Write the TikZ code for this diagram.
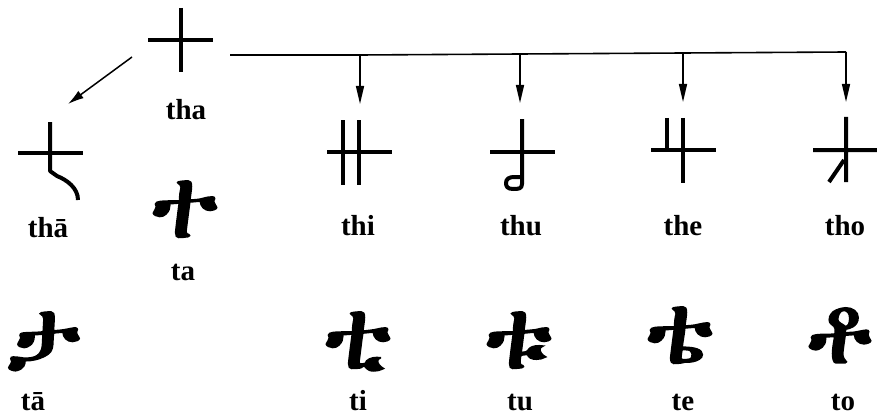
\documentclass[tikz,border=0pt]{standalone}
\usepackage{fontspec}
\usetikzlibrary{arrows.meta}
\setmainfont{Liberation Serif}
\IfFontExistsTF{FreeSerif}{\newfontfamily\eth{FreeSerif}[FakeBold=2]}{\newfontfamily\eth{DejaVu Sans}}
\begin{document}
\begin{tikzpicture}[x=1pt,y=-1pt,
  lbl/.style={font=\fontsize{29}{29}\selectfont\bfseries, anchor=base, inner sep=0pt},
  ethg/.style={font=\eth\fontsize{96}{96}\selectfont, anchor=base, inner sep=0pt},
  stroke/.style={line width=4pt, line cap=butt},
  conn/.style={line width=1.6pt},
  arr/.style={line width=1.5pt, -{Triangle[length=18pt,width=8pt]}}]
\useasboundingbox (0,0) rectangle (877,417);
% ancient glyphs
% tha
\draw[stroke] (148,40) -- (213,40) (181,8) -- (181,72);
\coordinate (thaS) at (132,57);
\coordinate (thaR) at (230,55);
% tha long
\draw[stroke] (18,153) -- (83,153);
\draw[stroke, line join=round] (50,122) -- (50,171) -- (57,176) .. controls (67,180) and (78,188) .. (78,200);
% thi
\draw[stroke] (327,152) -- (392,152) (343,120) -- (343,185) (359,120) -- (359,185);
% thu
\draw[stroke] (490,152) -- (555,152);
\draw[stroke, line join=round] (522,119) -- (522,184) .. controls (522,189) and (518,189) .. (513,189) .. controls (507,189) and (506,186) .. (506,183) .. controls (506,179) and (509,177) .. (514,177) -- (522,177);
% the
\draw[stroke] (651,150) -- (716,150) (683,118) -- (683,183) (667,118) -- (667,150);
% tho
\draw[stroke] (813,150) -- (877,150) (846,117) -- (846,182) (844,160) -- (829,182);
% labels
\node[lbl] (ltha) at (186,120) {tha};
\node[lbl] (ltha2) at (48,237) {thā};
\node[lbl] (lta) at (183,280) {ta};
\node[lbl] (lthi) at (358,235) {thi};
\node[lbl] (lthu) at (521,235) {thu};
\node[lbl] (lthe) at (683,235) {the};
\node[lbl] (ltho) at (845,235) {tho};
\node[lbl] (lta2) at (33,410) {tā};
\node[lbl] (lti) at (358,410) {ti};
\node[lbl] (ltu) at (520,410) {tu};
\node[lbl] (lte) at (683,410) {te};
\node[lbl] (lto) at (843,410) {to};
% ethiopic glyphs
\node[ethg] (gta) at (185,237) {ተ};
\node[ethg] (gta2) at (44,368) {ታ};
\node[ethg] (gti) at (358,368) {ቲ};
\node[ethg] (gtu) at (519,368) {ቱ};
\node[ethg] (gte) at (680,363) {ቴ};
\node[ethg] (gto) at (840,362) {ቶ};
% connectors
\coordinate (tip0) at (68,104);
\draw[line width=1.5pt, -{Latex[length=16pt,width=9pt]}] (thaS) -- (tip0);
\coordinate (j1) at (360,55); \coordinate (j2) at (520,54);
\coordinate (j3) at (683,53); \coordinate (j4) at (846,52);
\coordinate (t1) at (360,104); \coordinate (t2) at (520,103);
\coordinate (t3) at (683,102); \coordinate (t4) at (846,102);
\draw[conn] (thaR) -- (j1) -- (j2) -- (j3) -- (j4);
\draw[arr] (j1) -- (t1);
\draw[arr] (j2) -- (t2);
\draw[arr] (j3) -- (t3);
\draw[arr] (j4) -- (t4);
\end{tikzpicture}
\end{document}
